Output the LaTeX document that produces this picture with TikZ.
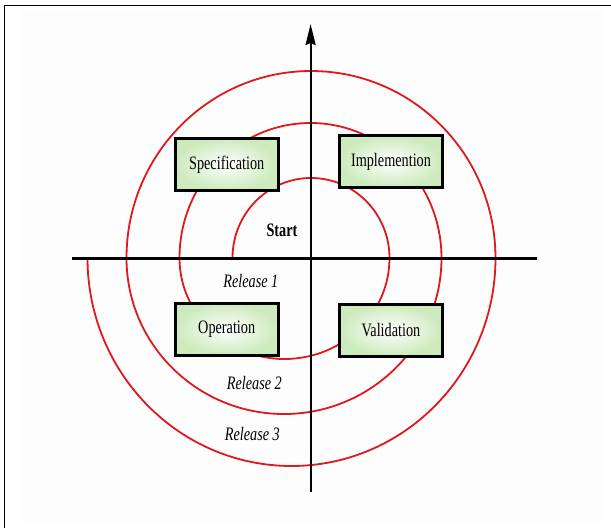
\documentclass[tikz,border=0pt]{standalone}
\usepackage{fontspec}
\setmainfont{Liberation Serif}
\usepackage{graphicx}
\usetikzlibrary{arrows.meta}
\tikzstyle{canvas} = [x = 1pt, y = -1pt]
\definecolor{spiralColor}{RGB}{222,24,30}
\definecolor{phaseColor}{RGB}{204,234,188}
\definecolor{pageTint}{RGB}{253,253,253}
\tikzstyle{frameLine} = [color=black, line width=1.5pt]
\tikzstyle{spiralLine} = [color=spiralColor, line width=1.8pt, line join=round]
\tikzstyle{axisLine} = [color=black, line width=2pt]
\tikzstyle{phaseStyle} = [draw=black, line width=3pt, inner color=white, outer color=phaseColor, minimum width=103pt, minimum height=52pt, inner sep=0pt, font=\fontsize{19}{21}\selectfont]
\tikzstyle{startText} = [font=\fontsize{19}{21}\selectfont\bfseries]
\tikzstyle{releaseText} = [font=\fontsize{19}{21}\selectfont\itshape]
\newcommand{\narrow}[1]{\scalebox{.75}[1]{#1}}
\newcommand{\phaseBox}[4]{\node [phaseStyle] (#1) at (#2, #3) {\narrow{#4}};}
\newcommand{\releaseLabel}[4]{\node [releaseText] (#1) at (#2, #3) {\narrow{#4}};}

\begin{document}
\begin{tikzpicture}[canvas]
        \useasboundingbox (0, 0) rectangle (611, 528);
        \fill [pageTint] (20, 10) rectangle (603, 523);
        \draw [frameLine] (4.5, 528) -- (4.5, 5.5) -- (611, 5.5);

        \draw [spiralLine] (232.5, 258)
          \foreach \upX/\upY/\lowX/\lowY in {78.5/80/105/101, 131/135/157.5/156, 184.5/187/204/208} {
            arc [start angle=180, end angle=360, x radius=\upX, y radius=\upY]
            arc [start angle=0, end angle=180, x radius=\lowX, y radius=\lowY]
          };

        \coordinate (axisLeft) at (72, 258);
        \coordinate (axisRight) at (537, 258);
        \coordinate (axisBottom) at (310.6, 492);
        \coordinate (axisTop) at (310.6, 24);
        \draw [axisLine, line width=3pt] (axisLeft) -- (axisRight);
        \draw [axisLine, -{Stealth[length=21pt, width=10pt, inset=2pt]}] (axisBottom) -- (axisTop);

        \phaseBox{spec}{226.7}{164.5}{Specification}
        \phaseBox{impl}{391}{161.8}{Implemention}
        \phaseBox{oper}{226.7}{329.5}{Operation}
        \phaseBox{valid}{391}{330}{Validation}

        \node [startText] (start) at (282, 230) {\narrow{Start}};
        \releaseLabel{releaseOne}{250.8}{281}{Release 1}
        \releaseLabel{releaseTwo}{254.3}{383}{Release 2}
        \releaseLabel{releaseThree}{252.3}{434}{Release 3}
      \end{tikzpicture}
\end{document}
